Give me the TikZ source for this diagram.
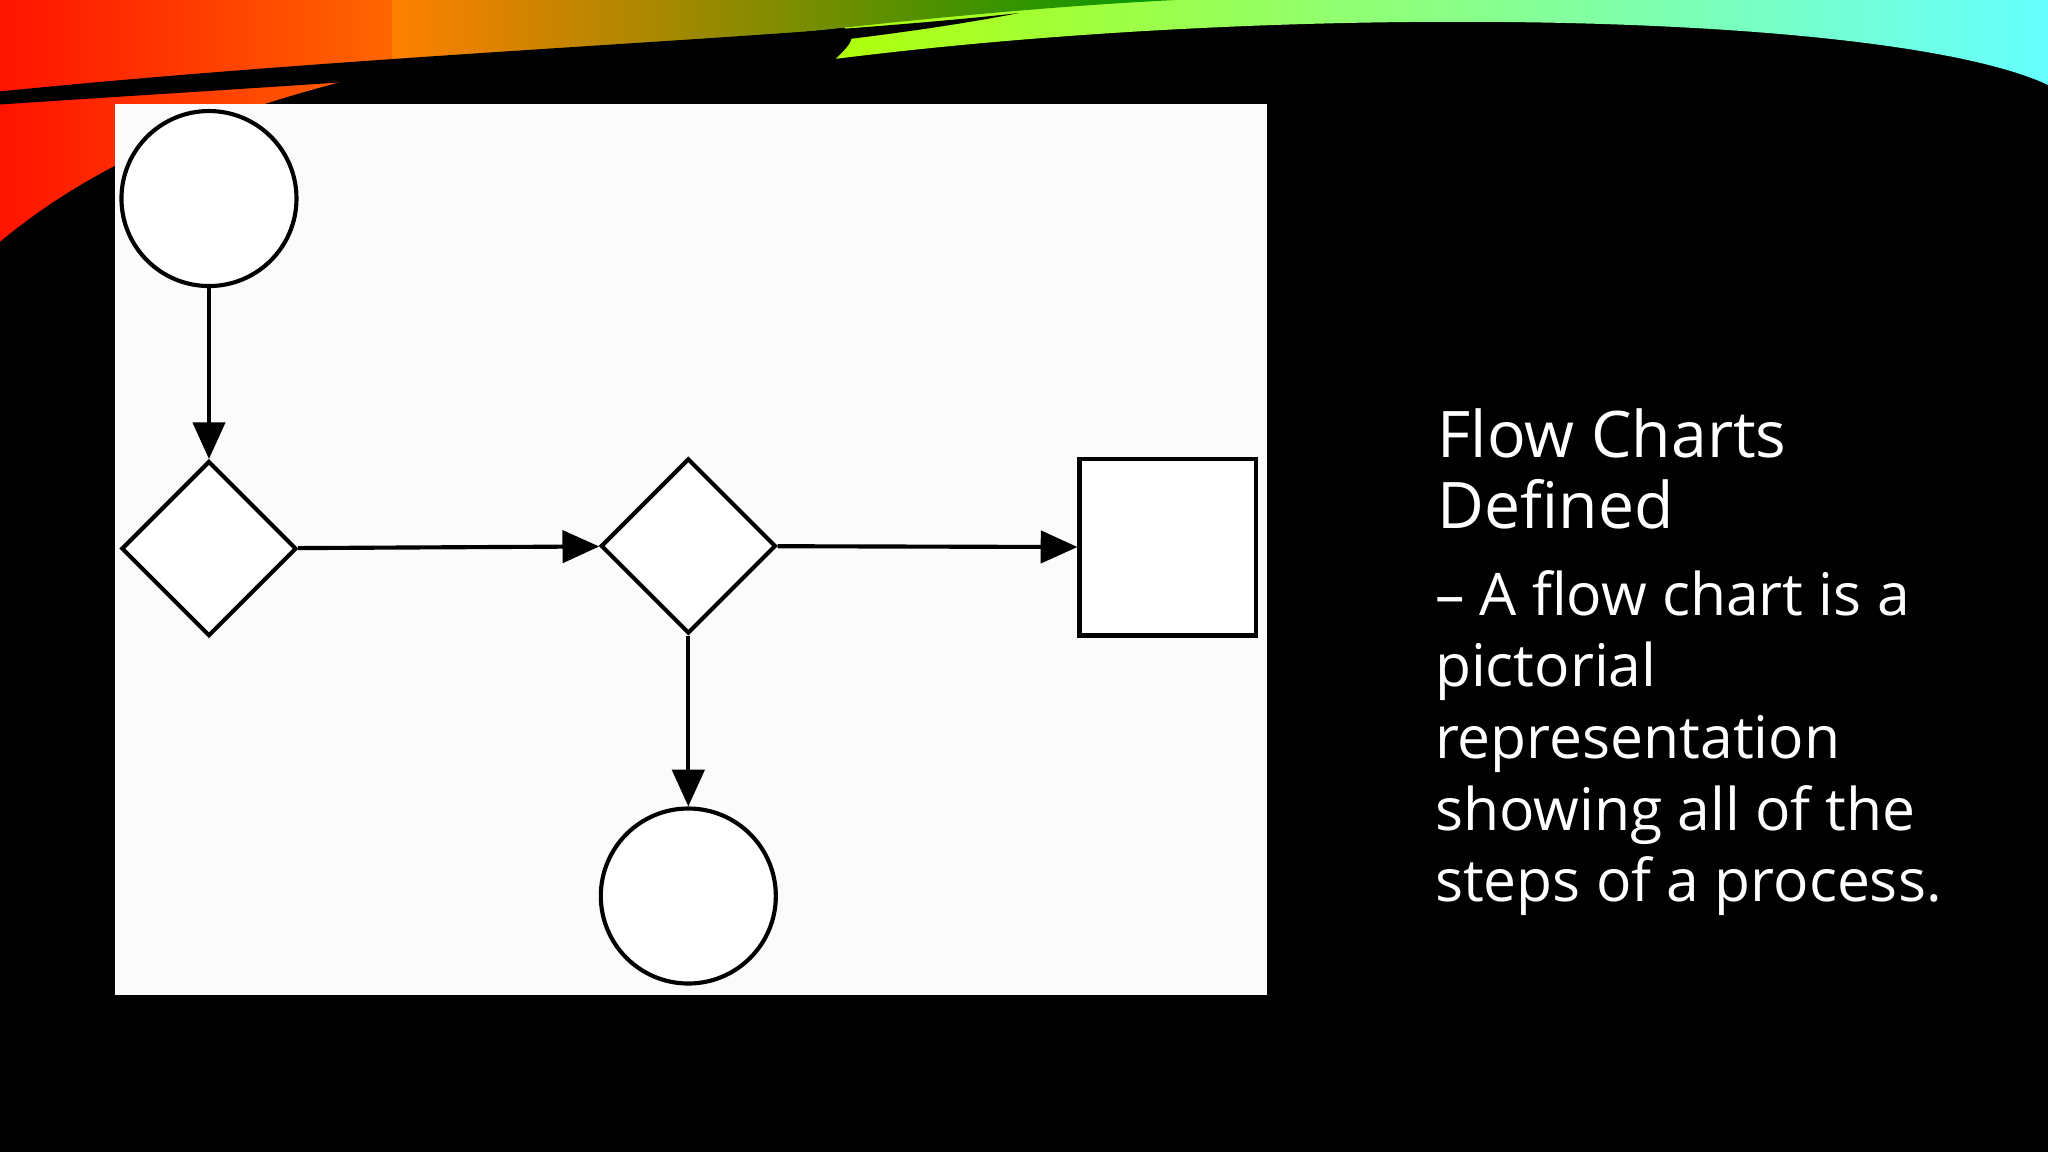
\documentclass[tikz,border=0pt]{standalone}
\usepackage{fontspec}
\setmainfont{Open Sans}
\usetikzlibrary{arrows.meta,shapes.geometric}
\begin{document}
\begin{tikzpicture}[x=0.1mm,y=-0.1mm,
  shp/.style={draw=black,line width=0.9pt,fill=white,inner sep=0pt},
  arr/.style={line width=0.9pt,-{Triangle[length=8pt,width=7pt]}},
  txt/.style={text=white,anchor=north west,align=left,inner sep=0pt}]
\fill[black] (0,0) rectangle (1568,882);
\useasboundingbox (0,0) rectangle (1568,882);
% swoosh
\shade[left color=red!85!orange,right color=yellow!80!orange] (0,0) -- (760,0) .. controls (400,20) and (150,60) .. (0,185) -- cycle;
\shade[left color=yellow!70!green,right color=cyan!60!white] (600,0) -- (1568,0) -- (1568,65) .. controls (1450,10) and (1000,0) .. (640,45) .. controls (660,25) .. (600,0) -- cycle;
\shade[left color=orange,right color=green!60!black] (300,0) -- (900,0) .. controls (700,10) and (500,40) .. (300,60) -- cycle;
\fill[black] (0,70) .. controls (300,40) and (600,30) .. (780,10) .. controls (600,45) and (300,60) .. (0,80) -- cycle;
% panel
\fill[white!97!gray] (88,80) rectangle (970,762);
\node[shp,circle,minimum size=134*0.1mm] (c1) at (160,152) {};
\node[shp,diamond,minimum size=134*0.1mm] (d1) at (160,420) {};
\node[shp,diamond,minimum size=134*0.1mm] (d2) at (527,418) {};
\node[shp,rectangle,minimum size=135*0.1mm] (r1) at (894,419) {};
\node[shp,circle,minimum size=134*0.1mm] (c2) at (527,686) {};
\draw[arr] (c1) -- (d1);
\draw[arr] (d1) -- (d2);
\draw[arr] (d2) -- (r1);
\draw[arr] (d2) -- (c2);
% text
\node[txt,font=\fontsize{14}{15.5}\selectfont] (t1) at (1100,312) {Flow Charts\\Defined};
\node[txt,font=\fontsize{12.8}{15.6}\selectfont] (t2) at (1098,436) {– A flow chart is a\\pictorial\\representation\\showing all of the\\steps of a process.};
\end{tikzpicture}
\end{document}
